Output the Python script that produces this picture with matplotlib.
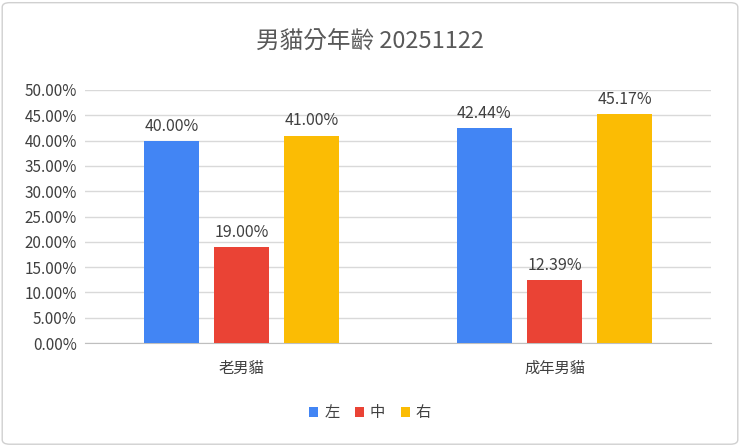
import matplotlib
matplotlib.use("Agg")
import matplotlib.pyplot as plt
import numpy as np
from matplotlib.patches import FancyBboxPatch

plt.rcParams['font.family'] = ['Noto Sans CJK TC', 'DejaVu Sans']

categories = ['老男貓', '成年男貓']
series = ['左', '中', '右']
values = [[0.40, 0.4244], [0.19, 0.1239], [0.41, 0.4517]]
colors = ['#4285F4', '#EA4335', '#FBBC04']
title = '男貓分年齡 20251122'

fig = plt.figure(figsize=(7.4, 4.46), dpi=100)
fig.patches.append(FancyBboxPatch((0.003, 0.004), 0.994, 0.99, boxstyle="round,pad=0,rounding_size=0.01",
                                  transform=fig.transFigure, fill=False, edgecolor='#d0d0d0', lw=1))
ax = fig.add_axes([85/740, 1-343/446, (711-85)/740, (343-90)/446])
x = np.arange(len(categories))
w = 0.175
step = 0.224
for i, (s, v, c) in enumerate(zip(series, values, colors)):
    pos = x + (i-1)*step
    ax.bar(pos, v, w, color=c, label=s, zorder=3)
    for p, val in zip(pos, v):
        ax.text(p, val+0.012, f'{val*100:.2f}%', ha='center', va='bottom', fontsize=11.5, color='#404040')
ax.set_xlim(-0.5, 1.5)
ax.set_ylim(0, 0.5)
ax.set_yticks(np.arange(0, 0.501, 0.05))
ax.set_yticklabels([f'{t*100:.2f}%' for t in np.arange(0, 0.501, 0.05)], fontsize=11, color='#404040')
ax.set_xticks(x)
ax.set_xticklabels(categories, fontsize=11, color='#404040')
ax.tick_params(length=0, pad=6)
ax.tick_params(axis='x', pad=12)
ax.grid(axis='y', color='#d9d9d9', lw=1, zorder=0)
for sp in ['top', 'right', 'left']:
    ax.spines[sp].set_visible(False)
ax.spines['bottom'].set_color('#bfbfbf')
fig.text(0.5, 1-42/446, title, ha='center', va='center', fontsize=17, color='#595959')
leg = fig.legend(loc='center', bbox_to_anchor=(0.5, 1-413/446), ncol=3, frameon=False,
                 fontsize=11, handlelength=0.6, handleheight=0.6, columnspacing=1.0, handletextpad=0.4)
for t in leg.get_texts():
    t.set_color('#404040')
fig.savefig('out.png', dpi=100)
